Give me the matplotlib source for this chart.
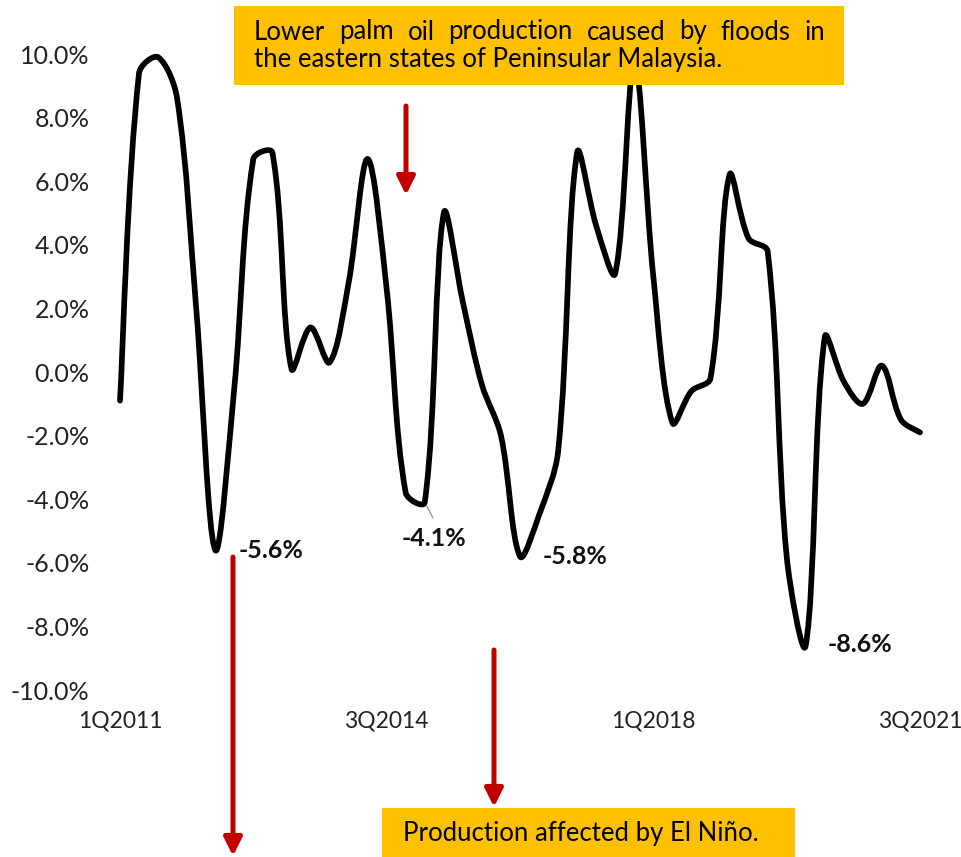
import numpy as np
import matplotlib.pyplot as plt
from matplotlib.path import Path
from matplotlib.patches import PathPatch, Rectangle

plt.rcParams['font.family'] = ['Lato', 'DejaVu Sans']

# quarterly growth, 1Q2011 .. 3Q2021 (%)
quarters = []
for yr in range(2011, 2022):
    for q in range(1, 5):
        quarters.append(f"{q}Q{yr}")
quarters = quarters[:quarters.index("3Q2021") + 1]

growth = [-0.9, 9.4, 9.9, 8.6, 2.0, -5.6, -0.5, 6.7, 6.9, 0.1,
          1.4, 0.3, 2.8, 6.7, 2.6, -3.8, -4.1, 5.0, 2.2, -0.4,
          -2.0, -5.8, -4.5, -2.5, 6.9, 4.6, 3.1, 9.8, 3.0, -1.6,
          -0.6, -0.2, 6.2, 4.2, 3.8, -5.8, -8.6, 1.1, -0.3, -1.0,
          0.2, -1.5, -1.9]

tick_idx = [0, 14, 28, 42]
yticks = [10, 8, 6, 4, 2, 0, -2, -4, -6, -8, -10]

# labelled troughs: (quarter index, label, label centre in px)
troughs = [(5, "-5.6%", (271, 551)),
           (16, "-4.1%", (434, 538)),
           (21, "-5.8%", (575, 557)),
           (36, "-8.6%", (860, 644))]

top_note = ["Lower palm oil production caused by floods in",
            "the eastern states of Peninsular Malaysia."]
bottom_note = "Production affected by El Niño."

W, H = 961, 857
RED = "#C00000"
GOLD = "#FFC000"


def fx(x):
    return x / W


def fy(y):
    return 1 - y / H


fig = plt.figure(figsize=(W / 100, H / 100), dpi=100)
ax = fig.add_axes([fx(120), fy(690), fx(920) - fx(120), fy(54) - fy(690)])
ax.set_xlim(0, len(growth) - 1)
ax.set_ylim(-10, 10)

# smoothed line: bezier segments, control arms scaled by neighbouring
# segment lengths on screen (keeps the curve from overshooting)
x = np.arange(len(growth), dtype=float)
y = np.array(growth)
pts = np.column_stack([x, y])
scr = pts * np.array([19.05, 31.8])
n = len(pts)


def seglen(i, j):
    return np.hypot(*(scr[j] - scr[i]))


verts = [pts[0]]
codes = [Path.MOVETO]
for i in range(n - 1):
    i0, i3 = max(i - 1, 0), min(i + 2, n - 1)
    d01, d12, d23 = seglen(i0, i), seglen(i, i + 1), seglen(i + 1, i3)
    f1 = d12 / (d01 + d12) if i > 0 else 0.5
    f2 = d12 / (d12 + d23) if i + 1 < n - 1 else 0.5
    c1 = pts[i] + (pts[i + 1] - pts[i0]) * f1 / 3
    c2 = pts[i + 1] - (pts[i3] - pts[i]) * f2 / 3
    verts += [c1, c2, pts[i + 1]]
    codes += [Path.CURVE4] * 3
ax.add_patch(PathPatch(Path(verts, codes), fill=False, lw=4.1, ec="black",
                       capstyle="round", joinstyle="round", clip_on=False))

for s in ax.spines.values():
    s.set_visible(False)
ax.set_yticks(yticks)
ax.set_yticklabels([f"{v:.1f}%" for v in yticks])
ax.set_xticks(tick_idx)
ax.set_xticklabels([quarters[i] for i in tick_idx])
ax.tick_params(axis="both", length=0, colors="#222222")
ax.tick_params(axis="y", pad=22, labelsize=18)
ax.tick_params(axis="x", pad=15, labelsize=16.5)

# trough labels
for idx, lab, (lx, ly) in troughs:
    fig.text(fx(lx), fy(ly), lab, ha="center", va="center", fontsize=18,
             fontweight="bold", color="#111111")
ax.annotate("", xy=(16, growth[16]), xytext=(fx(433), fy(518)),
            textcoords="figure fraction",
            arrowprops=dict(arrowstyle="-", color="#999999", lw=1,
                            shrinkA=0, shrinkB=3))

# note boxes
fig.patches.append(Rectangle((fx(234), fy(85)), fx(844) - fx(234), fy(6) - fy(85),
                             transform=fig.transFigure, fc=GOLD, ec="none", zorder=3))
fig.patches.append(Rectangle((fx(382), fy(870)), fx(795) - fx(382), fy(808) - fy(870),
                             transform=fig.transFigure, fc=GOLD, ec="none", zorder=3))

# justified first line of the top note
renderer = fig.canvas.get_renderer()
words = top_note[0].split()
objs = [fig.text(0, fy(32), w, fontsize=18.5, va="center", ha="left", zorder=4)
        for w in words]
widths = [o.get_window_extent(renderer).width for o in objs]
gap = (825 - 254 - sum(widths)) / (len(words) - 1)
xpos = 254
for o, w in zip(objs, widths):
    o.set_x(fx(xpos))
    xpos += w + gap
fig.text(fx(254), fy(60), top_note[1], fontsize=18.5, va="center", ha="left", zorder=4)
fig.text(fx(403), fy(834), bottom_note, fontsize=18.5, va="center", ha="left", zorder=4)

# red arrows
for x0, y0, y1 in [(406, 106, 195), (233, 557, 856), (494, 650, 807)]:
    ax.annotate("", xy=(fx(x0), fy(y1)), xytext=(fx(x0), fy(y0)),
                xycoords="figure fraction", textcoords="figure fraction",
                arrowprops=dict(arrowstyle="-|>", color=RED, lw=3.6,
                                mutation_scale=27, shrinkA=0, shrinkB=0))

fig.savefig("out.png", dpi=100)
